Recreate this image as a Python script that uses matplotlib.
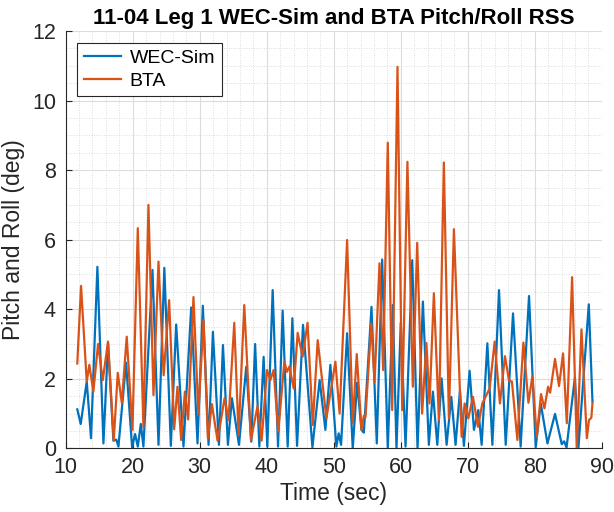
import matplotlib
matplotlib.use('Agg')
import matplotlib.pyplot as plt
from matplotlib.ticker import MultipleLocator

plt.rcParams['font.family'] = ['Liberation Sans', 'DejaVu Sans']

# WEC-Sim pitch/roll RSS: time (sec) and value (deg) at turning points
wec_t = [11.73, 12.24, 13.14, 13.78, 14.73, 15.63, 16.32, 17.12, 17.55, 17.87, 19.01, 19.91,
         20.36, 20.76, 21.21, 21.6, 22.95, 23.85, 24.72, 25.69, 26.49, 27.58, 28.73, 29.67,
         30.47, 31.32, 31.97, 32.87, 33.47, 34.21, 34.81, 35.86, 36.95, 37.7, 38.27, 38.9,
         39.54, 40.09, 40.89, 41.69, 42.38, 43.13, 43.83, 44.53, 45.42, 46.82, 47.9, 48.76,
         49.5, 50.4, 50.75, 51.1, 52.0, 52.84, 53.5, 54.14, 54.5, 55.64, 56.43, 57.23,
         58.07, 58.82, 59.37, 60.01, 60.72, 61.72, 62.51, 63.31, 64.2, 64.8, 65.46, 66.1,
         66.85, 67.55, 68.19, 68.84, 69.43, 70.28, 70.93, 71.58, 72.08, 72.93, 73.68, 74.67,
         75.67, 76.76, 77.9, 79.15, 80.15, 80.9, 81.9, 83.03, 84.03, 84.4, 84.75, 86.0,
         86.53, 88.07, 88.62]
wec_v = [1.12, 0.70, 1.92, 0.29, 5.22, 0.14, 3.02, 0.22, 0.25, 0.05, 2.46, 0.03,
         0.41, 0.05, 0.70, 0.05, 5.13, 0.10, 5.19, 0.07, 3.56, 0.05, 4.05, 0.14,
         4.10, 0.10, 3.35, 0.10, 2.97, 0.10, 1.44, 0.10, 2.35, 0.19, 3.00, 0.05,
         2.63, 0.05, 4.55, 0.05, 3.96, 0.05, 3.74, 0.07, 3.55, 0.03, 1.96, 0.53,
         2.40, 0.05, 0.43, 0.10, 3.31, 0.00, 1.89, 0.53, 0.45, 4.07, 0.14, 5.43,
         0.00, 4.12, 0.00, 3.61, 0.05, 5.41, 0.00, 4.22, 0.10, 1.63, 0.10, 2.01,
         0.10, 1.48, 0.10, 1.66, 0.07, 2.23, 0.53, 1.10, 0.10, 3.02, 0.10, 4.55,
         0.10, 3.88, 0.05, 4.38, 0.03, 1.29, 0.14, 0.99, 0.12, 0.20, 0.02, 2.04,
         0.03, 4.14, 1.34]

# BTA pitch/roll RSS
bta_t = [11.73, 12.29, 13.14, 13.53, 14.13, 14.83, 15.53, 16.32, 17.17, 17.77, 18.37, 19.11,
         19.96, 20.76, 21.6, 22.35, 23.1, 23.85, 24.62, 25.44, 26.19, 26.68, 27.23, 27.79,
         28.28, 29.07, 29.8, 30.57, 31.22, 31.82, 32.66, 33.71, 34.3, 35.16, 35.8, 36.65,
         37.65, 38.64, 39.24, 40.04, 40.54, 41.03, 41.73, 42.63, 43.03, 43.38, 44.03, 44.62,
         45.35, 46.1, 46.87, 47.61, 48.91, 50.25, 50.88, 52.0, 52.84, 53.44, 54.14, 54.49,
         54.75, 55.6, 56.1, 56.83, 57.38, 58.07, 58.73, 59.52, 60.22, 61.0, 61.81, 62.46,
         63.2, 63.83, 64.3, 64.95, 65.7, 66.44, 67.19, 67.94, 69.09, 69.54, 70.09, 70.78,
         71.53, 72.18, 73.27, 74.02, 74.81, 75.56, 76.17, 76.6, 77.41, 78.31, 79.06, 79.66,
         80.3, 80.94, 81.45, 81.99, 82.3, 83.03, 83.63, 84.23, 84.79, 85.58, 86.28, 86.98,
         87.78, 88.1, 88.45, 88.62]
bta_v = [2.44, 4.67, 1.92, 2.40, 1.63, 3.00, 1.96, 3.07, 0.22, 2.17, 1.31, 3.21,
         0.53, 6.33, 0.60, 7.00, 1.53, 5.37, 2.10, 4.26, 0.55, 1.77, 0.24, 1.63,
         0.83, 4.35, 1.00, 3.69, 0.29, 1.27, 0.22, 1.44, 0.81, 3.61, 0.38, 4.12,
         0.24, 1.22, 0.22, 2.25, 1.96, 2.25, 0.48, 2.49, 2.20, 2.35, 1.72, 3.32,
         2.63, 3.61, 0.67, 3.11, 0.86, 2.49, 1.00, 5.99, 0.72, 2.71, 0.53, 0.93,
         0.90, 3.59, 1.90, 5.32, 2.25, 8.79, 1.10, 10.97, 1.10, 8.24, 1.77, 5.91,
         1.00, 3.03, 1.29, 4.46, 0.81, 8.22, 0.86, 6.30, 0.33, 1.29, 0.86, 1.48,
         0.62, 1.29, 1.72, 3.07, 1.29, 2.65, 1.94, 1.92, 0.24, 3.04, 1.31, 2.08,
         0.33, 1.56, 1.15, 1.77, 1.60, 2.57, 1.79, 2.73, 0.72, 4.92, 0.00, 3.42,
         0.29, 0.81, 0.88, 1.29]

fig = plt.figure(figsize=(6.14, 5.12), dpi=100)
ax = fig.add_axes([0.107, 0.1244, 0.873, 0.815])

ax.plot(wec_t, wec_v, color='#0072BD', lw=1.6, label='WEC-Sim', solid_joinstyle='round')
ax.plot(bta_t, bta_v, color='#D95319', lw=1.6, label='BTA', solid_joinstyle='round')

ax.set_xlim(10, 90)
ax.set_ylim(0, 12)
ax.xaxis.set_major_locator(MultipleLocator(10))
ax.xaxis.set_minor_locator(MultipleLocator(2))
ax.yaxis.set_major_locator(MultipleLocator(2))
ax.yaxis.set_minor_locator(MultipleLocator(0.5))
ax.grid(which='major', color='#dcdcdc', lw=0.8)
ax.grid(which='minor', color='#d0d0d0', lw=0.6, ls=(0, (1, 2)))
ax.set_axisbelow(True)
ax.tick_params(which='major', direction='in', length=4, labelsize=15.5, colors='#262626')
ax.tick_params(axis='x', pad=6)
ax.tick_params(axis='y', pad=7)
ax.tick_params(which='minor', length=0)
for s in ['top', 'right']:
    ax.spines[s].set_visible(False)
for s in ['left', 'bottom']:
    ax.spines[s].set_color('#262626')

ax.set_xlabel('Time (sec)', fontsize=16.5, color='#262626', labelpad=3)
ax.set_ylabel('Pitch and Roll (deg)', fontsize=16.5, color='#262626', labelpad=5)
ax.set_title('11-04 Leg 1 WEC-Sim and BTA Pitch/Roll RSS', fontsize=16, fontweight='bold',
             pad=5)

leg = ax.legend(loc='upper left', fontsize=14, handlelength=1.9, handletextpad=0.45,
                fancybox=False, framealpha=1, edgecolor='#262626', borderaxespad=0.6,
                labelspacing=0.25, borderpad=0.35)
leg.get_frame().set_linewidth(0.8)

fig.savefig('out.png', dpi=100)
